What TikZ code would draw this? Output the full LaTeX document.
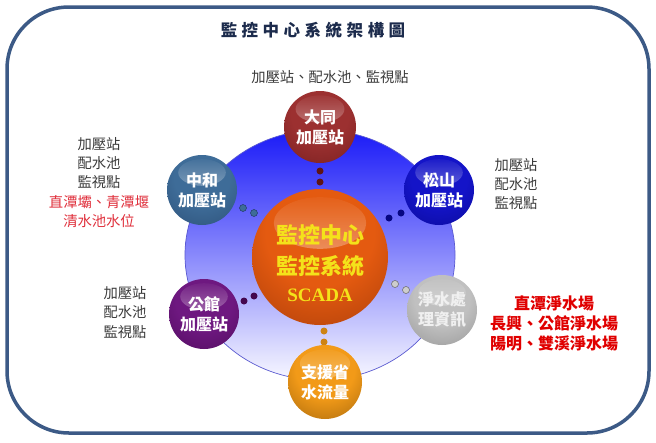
\documentclass[tikz,border=0pt]{standalone}
\usepackage{fontspec}
\setmainfont{Liberation Serif}
\newfontfamily\cjk{Noto Sans CJK TC}
\newfontfamily\scadafont{Liberation Serif}
\usetikzlibrary{fadings}
\definecolor{framec}{HTML}{3C5A86}
\definecolor{titlec}{HTML}{1C2B4C}
\definecolor{greyt}{HTML}{3A3A3A}
\definecolor{redl}{HTML}{E0303C}
\definecolor{redb}{HTML}{E00000}
\definecolor{scadaY}{HTML}{F4E21A}
\definecolor{dtA}{HTML}{9C3030}\definecolor{dtB}{HTML}{500E0E}
\definecolor{zhA}{HTML}{3E6C98}\definecolor{zhB}{HTML}{1A3256}
\definecolor{ssA}{HTML}{1414C8}\definecolor{ssB}{HTML}{000066}
\definecolor{gkA}{HTML}{6E1880}\definecolor{gkB}{HTML}{32003A}
\definecolor{jsA}{HTML}{C0C0C0}\definecolor{jsB}{HTML}{666666}
\definecolor{zyA}{HTML}{F29A18}\definecolor{zyB}{HTML}{523000}
\definecolor{ctA}{HTML}{E45A10}\definecolor{ctB}{HTML}{6A1E02}
\definecolor{bgTop}{HTML}{1A1AF8}
\definecolor{bgMid}{HTML}{8888F0}
\definecolor{bgBot}{HTML}{F8F8FF}
\definecolor{ellc}{HTML}{5A5AD0}
\colorlet{sbase}{red}\colorlet{sdark}{black}
\pgfdeclareradialshading[sbase,sdark]{glossy}{\pgfpoint{0bp}{12bp}}{%
  color(0bp)=(sbase); color(20bp)=(sbase); color(46bp)=(sbase!45!sdark);
  color(60bp)=(sdark); color(90bp)=(sdark)}
\newcommand\sphfont{\cjk\bfseries\fontsize{16}{20}\selectfont}
\newcommand\sidefont{\cjk\fontsize{14.3}{19.2}\selectfont}
\newcommand\redfont{\cjk\bfseries\fontsize{16}{20}\selectfont}
\newcommand\titlefont{\cjk\bfseries\fontsize{16.5}{20}\selectfont}
\newcommand\ctrfont{\cjk\bfseries\fontsize{22}{31}\selectfont}
\begin{document}
\begin{tikzpicture}[x=1pt,y=-1pt,
  glossball/.style={circle, inner sep=0pt, minimum size=2*#1, shade, shading=glossy,
    align=center, text=white, font=\sphfont,
    path picture={\fill[white,path fading=north,fill opacity=.7]
      ([yshift=.5*#1]path picture bounding box.center) ellipse [x radius=.68*#1, y radius=.38*#1];}},
  dot/.style={circle, inner sep=0pt, minimum size=7pt, fill=#1},
  side/.style={align=center, text=greyt, font=\sidefont},
]
\useasboundingbox (0,0) rectangle (656,442);
\fill[white] (0,0) rectangle (656,442);
% frame
\draw[framec, line width=3.5pt, rounded corners=62pt] (7,7) rectangle (649,433);
% title
\node[font=\titlefont, text=titlec] (title) at (313,30)
  {監\kern4.5pt 控\kern4.5pt 中\kern4.5pt 心\kern4.5pt 系\kern4.5pt 統\kern4.5pt 架\kern4.5pt 構\kern4.5pt 圖};
% backdrop ellipse
\shade[top color=bgTop, middle color=bgMid, bottom color=bgBot]
  (320,255) ellipse [x radius=135pt, y radius=125pt];
\draw[ellc, line width=0.7pt] (320,255) ellipse [x radius=135pt, y radius=125pt];
% dots
\node[dot=dtB!80!dtA] (d1a) at (320,171) {};
\node[dot=dtB!80!dtA] (d1b) at (320,182) {};
\node[dot=zhA, draw=zhB, line width=.4pt] (d2a) at (243,208) {};
\node[dot=zhA, draw=zhB, line width=.4pt] (d2b) at (254,213) {};
\node[dot=ssB!70!ssA] (d3a) at (389,218) {};
\node[dot=ssB!70!ssA] (d3b) at (401,213) {};
\node[dot=gkB!70!gkA] (d4a) at (244,301) {};
\node[dot=gkB!70!gkA] (d4b) at (254,296) {};
\node[dot=jsA!80!white, draw=jsB, line width=.5pt] (d5a) at (395,284) {};
\node[dot=jsA!80!white, draw=jsB, line width=.5pt] (d5b) at (406,290) {};
\node[dot=zyA!85!black] (d6a) at (324,331) {};
\node[dot=zyA!85!black] (d6b) at (324,342) {};
% spheres
\colorlet{sbase}{ctA}\colorlet{sdark}{ctB}
\node[glossball=68pt] (ctr) at (320,257) {};
\node[font=\ctrfont, text=scadaY, align=center] (ctr-t) at (320,263)
  {監控中心\\監控系統\\[-4pt]{\scadafont\bfseries\fontsize{19}{19}\selectfont SCADA}};
\colorlet{sbase}{dtA}\colorlet{sdark}{dtB}
\node[glossball=36pt] (dt) at (320,127) {大同\\加壓站};
\colorlet{sbase}{zhA}\colorlet{sdark}{zhB}
\node[glossball=35pt] (zh) at (202,190) {中和\\加壓站};
\colorlet{sbase}{ssA}\colorlet{sdark}{ssB}
\node[glossball=35pt] (ss) at (439,190) {松山\\加壓站};
\colorlet{sbase}{gkA}\colorlet{sdark}{gkB}
\node[glossball=35pt] (gk) at (204,314) {公館\\加壓站};
\colorlet{sbase}{jsA}\colorlet{sdark}{jsB}
\node[glossball=35pt, text=white!94!black] (js) at (442,310) {淨水處\\理資訊};
\colorlet{sbase}{zyA}\colorlet{sdark}{zyB}
\node[glossball=37pt] (zy) at (325,382) {支援省\\水流量};
% side texts
\node[side] (t-top) at (330,77) {加壓站、配水池、監視點};
\node[side] (t-zh) at (99,182.5) {加壓站\\配水池\\監視點\\\textcolor{redl}{直潭壩、青潭堰}\\\textcolor{redl}{清水池水位}};
\node[side] (t-gk) at (125,312.5) {加壓站\\配水池\\監視點};
\node[side] (t-ss) at (516,184) {加壓站\\配水池\\監視點};
\node[font=\redfont, text=redb, align=center] (t-js) at (554,323)
  {直潭淨水場\\長興、公館淨水場\\陽明、雙溪淨水場};
\end{tikzpicture}
\end{document}
